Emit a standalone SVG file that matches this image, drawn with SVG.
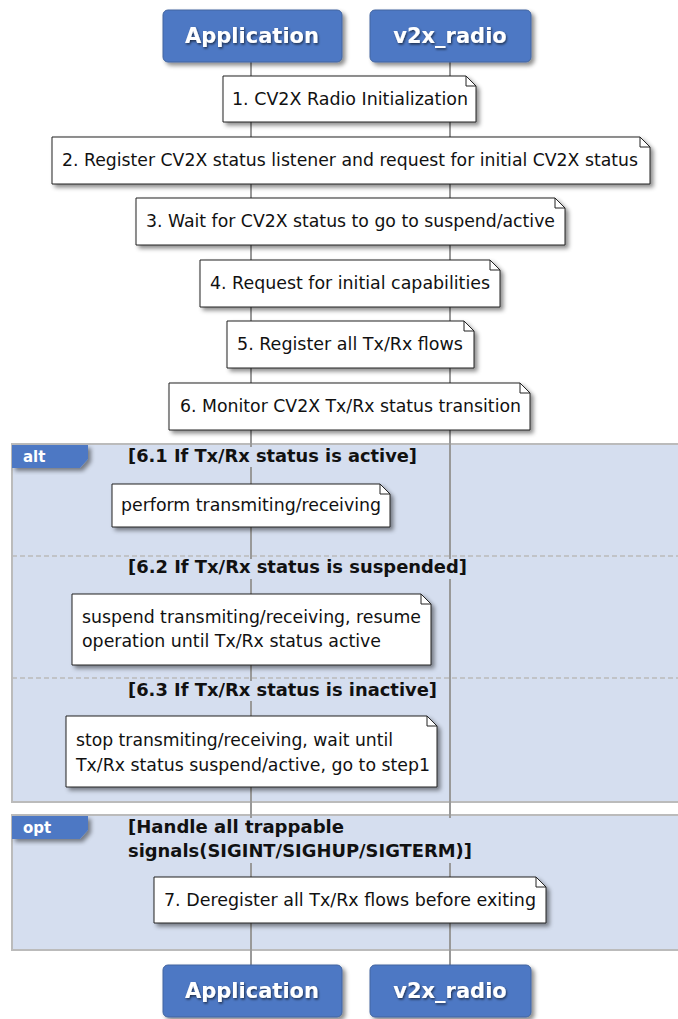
<svg xmlns="http://www.w3.org/2000/svg" width="678" height="1019" viewBox="0 0 678 1019">
<style>
.part{fill:#4e78c4;stroke:#41649f;stroke-width:1}
.ptxt{font-family:"DejaVu Sans",sans-serif;font-weight:bold;font-size:21px;fill:#fff;text-anchor:middle}
.life{stroke:#999;stroke-width:2}
.note{fill:#fff;stroke:#222;stroke-width:1}
.fold{fill:none;stroke:#222;stroke-width:1}
.ntxt{font-family:"DejaVu Sans",sans-serif;font-size:17.5px;fill:#111}
.grp{fill:#d5deef;stroke:#bbb;stroke-width:2}
.sep{stroke:#bbb;stroke-width:1.5;stroke-dasharray:5,3}
.tab{fill:#4e78c4}
.tabtxt{font-family:"DejaVu Sans",sans-serif;font-weight:bold;font-size:15px;fill:#fff}
.cond{font-family:"DejaVu Sans",sans-serif;font-weight:bold;font-size:18px;fill:#111}
.cbg{fill:#d5deef}
</style>
<defs>
<filter id="sh" x="-10%" y="-20%" width="130%" height="150%">
<feDropShadow dx="3" dy="3" stdDeviation="2" flood-color="#000" flood-opacity="0.45"/>
</filter>
<filter id="tsh" x="-10%" y="-30%" width="130%" height="170%">
<feDropShadow dx="1" dy="1.5" stdDeviation="1.2" flood-color="#000" flood-opacity="0.6"/>
</filter>
</defs>

<g id="group-alt">
<rect class="grp" x="12" y="444" width="680" height="358"/>
<line class="sep" x1="12" y1="556" x2="678" y2="556"/>
<line class="sep" x1="12" y1="678" x2="678" y2="678"/>
</g>
<g id="group-opt">
<rect class="grp" x="12" y="815" width="680" height="135"/>
</g>

<g id="connectors">
<line class="life" x1="251" y1="62" x2="251" y2="966"/>
<line class="life" x1="450" y1="62" x2="450" y2="966"/>
</g>

<g id="alt-labels">
<path class="tab" d="M12 445 H88 V459 L80 468 H12 Z" filter="url(#sh)"/>
<text class="tabtxt" x="23" y="462">alt</text>
<rect class="cbg" x="124" y="447" width="298" height="20"/>
<text class="cond" x="128" y="462" textLength="289" lengthAdjust="spacingAndGlyphs">[6.1 If Tx/Rx status is active]</text>
<rect class="cbg" x="124" y="559" width="348" height="20"/>
<text class="cond" x="128" y="573" textLength="339" lengthAdjust="spacingAndGlyphs">[6.2 If Tx/Rx status is suspended]</text>
<rect class="cbg" x="124" y="681" width="318" height="20"/>
<text class="cond" x="128" y="696" textLength="309" lengthAdjust="spacingAndGlyphs">[6.3 If Tx/Rx status is inactive]</text>
</g>
<g id="opt-labels">
<path class="tab" d="M12 816 H88 V830 L80 839 H12 Z" filter="url(#sh)"/>
<text class="tabtxt" x="23" y="833">opt</text>
<rect class="cbg" x="124" y="818" width="352" height="45"/>
<text class="cond" x="128" y="833" textLength="216" lengthAdjust="spacingAndGlyphs">[Handle all trappable</text>
<text class="cond" x="128" y="857" textLength="344" lengthAdjust="spacingAndGlyphs">signals(SIGINT/SIGHUP/SIGTERM)]</text>
</g>

<g id="participant-application-top">
<rect class="part" x="163" y="10" width="179" height="52" rx="5" filter="url(#sh)"/>
<text class="ptxt" x="252" y="43" filter="url(#tsh)">Application</text>
</g>
<g id="participant-v2x-top">
<rect class="part" x="370" y="10" width="161" height="52" rx="5" filter="url(#sh)"/>
<text class="ptxt" x="450" y="43" filter="url(#tsh)">v2x_radio</text>
</g>
<g id="participant-application-bottom">
<rect class="part" x="163" y="965" width="179" height="52" rx="5" filter="url(#sh)"/>
<text class="ptxt" x="252" y="998" filter="url(#tsh)">Application</text>
</g>
<g id="participant-v2x-bottom">
<rect class="part" x="370" y="965" width="161" height="52" rx="5" filter="url(#sh)"/>
<text class="ptxt" x="450" y="998" filter="url(#tsh)">v2x_radio</text>
</g>

<g id="note1">
<path class="note" filter="url(#sh)" d="M223 76 H466 L476 86 V122 H223 Z"/>
<path class="fold" d="M466 76 V86 H476"/>
<text class="ntxt" x="232" y="105" textLength="236" lengthAdjust="spacingAndGlyphs">1. CV2X Radio Initialization</text>
</g>
<g id="note2">
<path class="note" filter="url(#sh)" d="M52 137 H640 L650 147 V184 H52 Z"/>
<path class="fold" d="M640 137 V147 H650"/>
<text class="ntxt" x="62" y="166" textLength="576" lengthAdjust="spacingAndGlyphs">2. Register CV2X status listener and request for initial CV2X status</text>
</g>
<g id="note3">
<path class="note" filter="url(#sh)" d="M136 198 H555 L565 208 V245 H136 Z"/>
<path class="fold" d="M555 198 V208 H565"/>
<text class="ntxt" x="146" y="227" textLength="409" lengthAdjust="spacingAndGlyphs">3. Wait for CV2X status to go to suspend/active</text>
</g>
<g id="note4">
<path class="note" filter="url(#sh)" d="M200 260 H490 L500 270 V307 H200 Z"/>
<path class="fold" d="M490 260 V270 H500"/>
<text class="ntxt" x="210" y="289" textLength="280" lengthAdjust="spacingAndGlyphs">4. Request for initial capabilities</text>
</g>
<g id="note5">
<path class="note" filter="url(#sh)" d="M227 321 H464 L474 331 V368 H227 Z"/>
<path class="fold" d="M464 321 V331 H474"/>
<text class="ntxt" x="237" y="350" textLength="226" lengthAdjust="spacingAndGlyphs">5. Register all Tx/Rx flows</text>
</g>
<g id="note6">
<path class="note" filter="url(#sh)" d="M169 383 H520 L530 393 V430 H169 Z"/>
<path class="fold" d="M520 383 V393 H530"/>
<text class="ntxt" x="180" y="412" textLength="341" lengthAdjust="spacingAndGlyphs">6. Monitor CV2X Tx/Rx status transition</text>
</g>
<g id="note-active">
<path class="note" filter="url(#sh)" d="M112 484 H380 L390 494 V527 H112 Z"/>
<path class="fold" d="M380 484 V494 H390"/>
<text class="ntxt" x="121" y="511" textLength="260" lengthAdjust="spacingAndGlyphs">perform transmiting/receiving</text>
</g>
<g id="note-suspended">
<path class="note" filter="url(#sh)" d="M72 594 H421 L431 604 V665 H72 Z"/>
<path class="fold" d="M421 594 V604 H431"/>
<text class="ntxt" x="82" y="623" textLength="339" lengthAdjust="spacingAndGlyphs">suspend transmiting/receiving, resume</text>
<text class="ntxt" x="82" y="647" textLength="299" lengthAdjust="spacingAndGlyphs">operation until Tx/Rx status active</text>
</g>
<g id="note-inactive">
<path class="note" filter="url(#sh)" d="M66 716 H427 L437 726 V787 H66 Z"/>
<path class="fold" d="M427 716 V726 H437"/>
<text class="ntxt" x="76" y="746" textLength="317" lengthAdjust="spacingAndGlyphs">stop transmiting/receiving, wait until</text>
<text class="ntxt" x="76" y="771" textLength="354" lengthAdjust="spacingAndGlyphs">Tx/Rx status suspend/active, go to step1</text>
</g>
<g id="note7">
<path class="note" filter="url(#sh)" d="M154 877 H536 L546 887 V923 H154 Z"/>
<path class="fold" d="M536 877 V887 H546"/>
<text class="ntxt" x="164" y="906" textLength="372" lengthAdjust="spacingAndGlyphs">7. Deregister all Tx/Rx flows before exiting</text>
</g>
</svg>
